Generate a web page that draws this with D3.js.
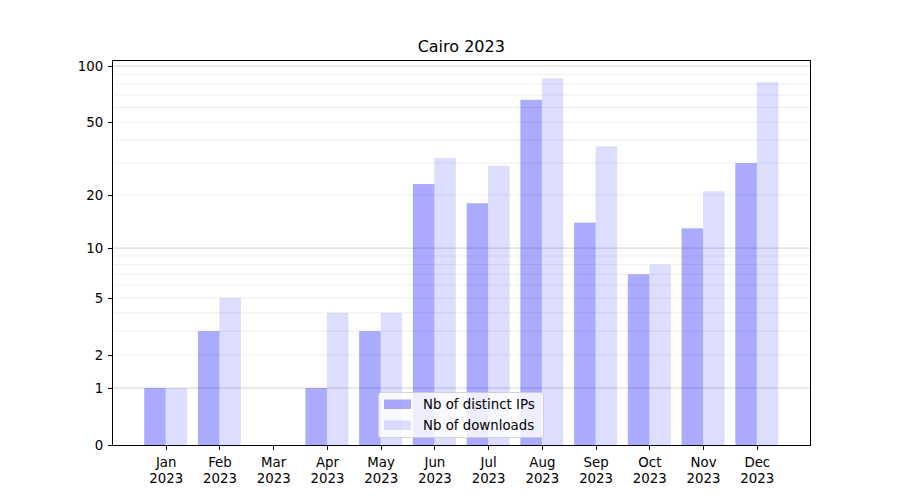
<!DOCTYPE html>
<html><head><meta charset="utf-8">
<script src="https://cdn.jsdelivr.net/npm/d3@7"></script>
<style>body{margin:0;background:#fff} text{font-family:"DejaVu Sans",sans-serif;fill:#000}</style>
</head><body><svg id="c" width="900" height="500"></svg>
<script>
const months=["Jan","Feb","Mar","Apr","May","Jun","Jul","Aug","Sep","Oct","Nov","Dec"];
const year="2023";
const ips=[1,3,0,1,3,23,18,66,14,7,13,30];
const downloads=[1,5,0,4,4,32,29,86,37,8,21,82];
const yTicks=[0,1,2,5,10,20,50,100];
const majorGrid=[1,10,100];
const minorGrid=[2,3,4,5,6,7,8,9,20,30,40,50,60,70,80,90];
const seriesNames=["Nb of distinct IPs","Nb of downloads"];
const title="Cairo 2023";

const svg=d3.select("#c");
const L=112.5,R=810,T=60,B=445;
const lo=-0.4,hi=months.length-1+0.4,pad=0.05*(hi-lo);
const x=d3.scaleLinear().domain([lo-pad,hi+pad]).range([L,R]);
const maxV=d3.max(ips.concat(downloads));
const yTop=Math.expm1(1.05*Math.log1p(maxV));
const y=d3.scaleSymlog().constant(1).domain([0,yTop]).range([B,T]);

// grid
const g=svg.append("g");
g.selectAll(".mi").data(minorGrid).enter().append("line")
 .attr("x1",L).attr("x2",R).attr("y1",d=>y(d)).attr("y2",d=>y(d))
 .attr("stroke","#ebebeb").attr("stroke-width",0.8);
g.selectAll(".ma").data(majorGrid).enter().append("line")
 .attr("x1",L).attr("x2",R).attr("y1",d=>y(d)).attr("y2",d=>y(d))
 .attr("stroke","#c8c8c8").attr("stroke-width",0.8);

// bars
const w=0.4;
svg.append("g").selectAll("rect").data(ips).enter().append("rect")
 .attr("x",(d,i)=>x(i-w)).attr("width",(d,i)=>x(i)-x(i-w))
 .attr("y",d=>y(d)).attr("height",d=>B-y(d))
 .attr("fill","#0000ff").attr("fill-opacity",1/3);
svg.append("g").selectAll("rect").data(downloads).enter().append("rect")
 .attr("x",(d,i)=>x(i)).attr("width",(d,i)=>x(i+w)-x(i))
 .attr("y",d=>y(d)).attr("height",d=>B-y(d))
 .attr("fill","#0000ff").attr("fill-opacity",0.134);

// axes
const ya=svg.append("g").attr("transform",`translate(${L},0)`)
 .call(d3.axisLeft(y).tickValues(yTicks).tickFormat(d3.format("d")).tickSize(4.67).tickPadding(4.67));
const xa=svg.append("g").attr("transform",`translate(0,${B})`)
 .call(d3.axisBottom(x).tickValues(d3.range(months.length)).tickFormat("").tickSize(4.67));
[ya,xa].forEach(a=>{a.select(".domain").remove();a.selectAll("line").attr("stroke","#000").attr("stroke-width",1).attr("shape-rendering","crispEdges");
 a.selectAll("text").attr("font-size","13.33px").attr("font-family","DejaVu Sans");});
xa.selectAll(".tick").each(function(d){
 const t=d3.select(this).append("text").attr("text-anchor","middle").attr("font-size","13.33px").attr("fill","#000");
 t.append("tspan").attr("x",0).attr("y",22).text(months[d]);
 t.append("tspan").attr("x",0).attr("y",37.5).text(year);
});
svg.append("rect").attr("x",L).attr("y",T).attr("width",R-L).attr("height",B-T)
 .attr("fill","none").attr("stroke","#000").attr("stroke-width",1).attr("shape-rendering","crispEdges");

svg.append("text").attr("x",(L+R)/2).attr("y",T-8).attr("text-anchor","middle")
 .attr("font-size","16px").text(title);

// legend
const lg=svg.append("g");
lg.append("rect").attr("x",378.5).attr("y",392.5).attr("width",165).attr("height",45).attr("rx",2.8)
 .attr("fill","#fff").attr("fill-opacity",0.8).attr("stroke","#cccccc").attr("stroke-width",0.8);
const ops=[1/3,0.134];
seriesNames.forEach((n,i)=>{
 const yy=399.5+i*21;
 lg.append("rect").attr("x",384).attr("y",yy).attr("width",27).attr("height",9.5)
  .attr("fill","#0000ff").attr("fill-opacity",ops[i]);
 lg.append("text").attr("x",423).attr("y",yy+9.5).attr("font-size","13.33px").text(n);
});
</script></body></html>
